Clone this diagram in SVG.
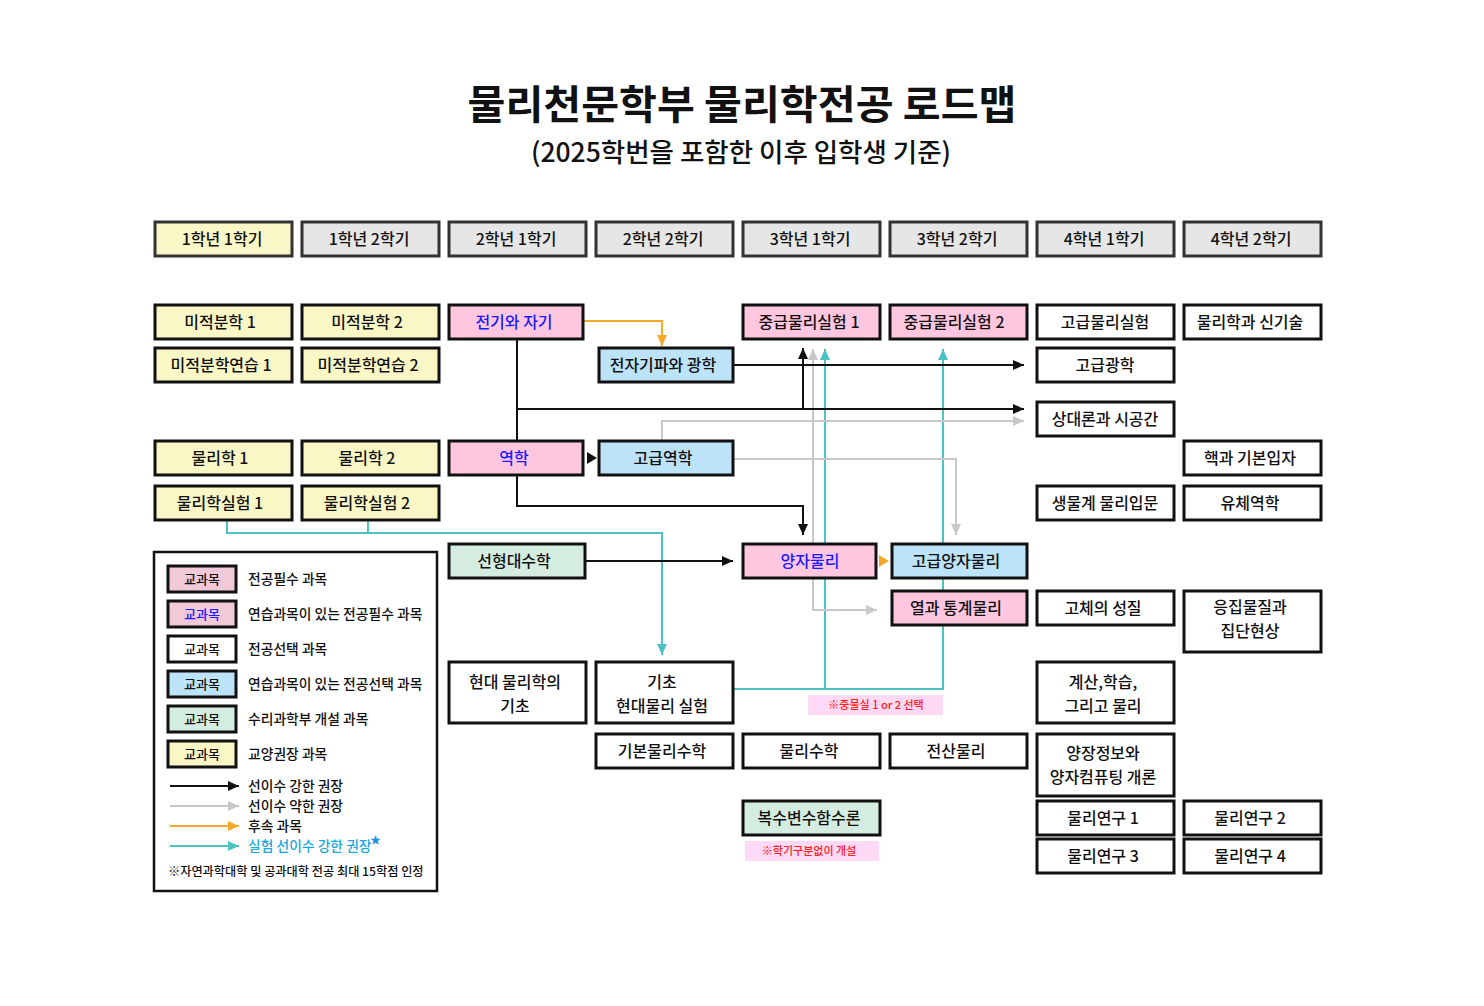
<svg xmlns="http://www.w3.org/2000/svg" width="1484" height="1006" viewBox="0 0 1484 1006">
<defs>
<style>
text{font-family:"Noto Sans CJK KR","Noto Sans",sans-serif;fill:#111;font-weight:500;}
.t{font-size:16px;text-anchor:middle;}
.blue{fill:#1a1aff;}
.box{stroke:#111;stroke-width:3;}
.hdr{fill:#e6e6e6;stroke:#333;stroke-width:3;}
.yel{fill:#faf7c6;}
.pink{fill:#ffc6df;}
.sky{fill:#bde3f8;}
.mint{fill:#d5ede0;}
.wht{fill:#ffffff;}
.k{fill:none;stroke:#111;stroke-width:2;}
.g{fill:none;stroke:#c8c8c8;stroke-width:2;}
.c{fill:none;stroke:#4cc2c4;stroke-width:2;}
.o{fill:none;stroke:#f7a82a;stroke-width:2;}
.lg{font-size:13.8px;}
.sw{font-size:13px;text-anchor:middle;}
.note{font-size:11px;fill:#ff1a1a;text-anchor:middle;}
</style>
<marker id="ak" markerUnits="userSpaceOnUse" markerWidth="11" markerHeight="10" refX="11" refY="5" orient="auto"><path d="M0,0 L11,5 L0,10 z" fill="#111"/></marker>
<marker id="ag" markerUnits="userSpaceOnUse" markerWidth="11" markerHeight="10" refX="11" refY="5" orient="auto"><path d="M0,0 L11,5 L0,10 z" fill="#c8c8c8"/></marker>
<marker id="ac" markerUnits="userSpaceOnUse" markerWidth="11" markerHeight="10" refX="11" refY="5" orient="auto"><path d="M0,0 L11,5 L0,10 z" fill="#4cc2c4"/></marker>
<marker id="ao" markerUnits="userSpaceOnUse" markerWidth="11" markerHeight="10" refX="11" refY="5" orient="auto"><path d="M0,0 L11,5 L0,10 z" fill="#f7a82a"/></marker>
</defs>
<rect width="1484" height="1006" fill="#ffffff"/>

<g id="title">
<text x="742" y="119" font-size="40" style="font-weight:bold" text-anchor="middle" textLength="549" lengthAdjust="spacingAndGlyphs">물리천문학부 물리학전공 로드맵</text>
<text x="741" y="162" font-size="26.5" text-anchor="middle">(2025학번을 포함한 이후 입학생 기준)</text>
</g>

<g id="connectors">
<polyline class="c" points="227,520 227,533 662,533 662,655" marker-end="url(#ac)"/>
<line class="c" x1="368" y1="520" x2="368" y2="533"/>
<polyline class="c" points="733,689 943,689 943,349" marker-end="url(#ac)"/>
<line class="c" x1="825" y1="689" x2="825" y2="349" marker-end="url(#ac)"/>
<polyline class="g" points="877,610 813,610 813,349" marker-end="url(#ag)"/>
<line class="g" x1="813" y1="610" x2="877" y2="610" marker-end="url(#ag)"/>
<polyline class="g" points="662,441 662,421 1024,421" marker-end="url(#ag)"/>
<polyline class="g" points="733,459 956,459 956,535" marker-end="url(#ag)"/>
<polyline class="o" points="583,321 662,321 662,346" marker-end="url(#ao)"/>
<line class="k" x1="517" y1="339" x2="517" y2="441"/>
<line class="k" x1="517" y1="409" x2="1024" y2="409" marker-end="url(#ak)"/>
<line class="k" x1="803" y1="409" x2="803" y2="348" marker-end="url(#ak)"/>
<line class="k" x1="733" y1="365" x2="1024" y2="365" marker-end="url(#ak)"/>
<polyline class="k" points="517,475 517,506 803,506 803,535" marker-end="url(#ak)"/>
<line class="k" x1="585" y1="561" x2="733" y2="561" marker-end="url(#ak)"/>
<polygon points="587,452 597,458 587,464" fill="#111"/>
<polygon points="879,555 889,561 879,567" fill="#f7a82a"/>
</g>

<g id="headers">
<g id="h1"><rect class="hdr yel" x="155" y="222" width="137" height="34"/><text class="t" x="222" y="245">1학년 1학기</text></g>
<g id="h2"><rect class="hdr" x="302" y="222" width="137" height="34"/><text class="t" x="369" y="245">1학년 2학기</text></g>
<g id="h3"><rect class="hdr" x="449" y="222" width="137" height="34"/><text class="t" x="516" y="245">2학년 1학기</text></g>
<g id="h4"><rect class="hdr" x="596" y="222" width="137" height="34"/><text class="t" x="663" y="245">2학년 2학기</text></g>
<g id="h5"><rect class="hdr" x="743" y="222" width="137" height="34"/><text class="t" x="810" y="245">3학년 1학기</text></g>
<g id="h6"><rect class="hdr" x="890" y="222" width="137" height="34"/><text class="t" x="957" y="245">3학년 2학기</text></g>
<g id="h7"><rect class="hdr" x="1037" y="222" width="137" height="34"/><text class="t" x="1104" y="245">4학년 1학기</text></g>
<g id="h8"><rect class="hdr" x="1184" y="222" width="137" height="34"/><text class="t" x="1251" y="245">4학년 2학기</text></g>
</g>

<g id="nodes">
<g id="n-calc1"><rect class="box yel" x="155" y="305" width="137" height="34"/><text class="t" x="220" y="328">미적분학 1</text></g>
<g id="n-calc2"><rect class="box yel" x="302" y="305" width="137" height="34"/><text class="t" x="367" y="328">미적분학 2</text></g>
<g id="n-em"><rect class="box pink" x="449" y="305" width="134" height="34"/><text class="t blue" x="514" y="328">전기와 자기</text></g>
<g id="n-lab1"><rect class="box pink" x="743" y="305" width="137" height="34"/><text class="t" x="809" y="328">중급물리실험 1</text></g>
<g id="n-lab2"><rect class="box pink" x="890" y="305" width="137" height="34"/><text class="t" x="954" y="328">중급물리실험 2</text></g>
<g id="n-advlab"><rect class="box wht" x="1037" y="305" width="137" height="34"/><text class="t" x="1105" y="328">고급물리실험</text></g>
<g id="n-newtech"><rect class="box wht" x="1184" y="305" width="137" height="34"/><text class="t" x="1250" y="328">물리학과 신기술</text></g>

<g id="n-calcex1"><rect class="box yel" x="155" y="348" width="137" height="34"/><text class="t" x="221" y="371">미적분학연습 1</text></g>
<g id="n-calcex2"><rect class="box yel" x="302" y="348" width="137" height="34"/><text class="t" x="368" y="371">미적분학연습 2</text></g>
<g id="n-emwave"><rect class="box sky" x="599" y="348" width="134" height="34"/><text class="t" x="663" y="371">전자기파와 광학</text></g>
<g id="n-advopt"><rect class="box wht" x="1037" y="348" width="137" height="34"/><text class="t" x="1105" y="371">고급광학</text></g>
<g id="n-rel"><rect class="box wht" x="1037" y="402" width="137" height="34"/><text class="t" x="1105" y="425">상대론과 시공간</text></g>

<g id="n-phy1"><rect class="box yel" x="155" y="441" width="137" height="34"/><text class="t" x="220" y="464">물리학 1</text></g>
<g id="n-phy2"><rect class="box yel" x="302" y="441" width="137" height="34"/><text class="t" x="367" y="464">물리학 2</text></g>
<g id="n-mech"><rect class="box pink" x="449" y="441" width="134" height="34"/><text class="t blue" x="514" y="464">역학</text></g>
<g id="n-advmech"><rect class="box sky" x="599" y="441" width="134" height="34"/><text class="t" x="663" y="464">고급역학</text></g>
<g id="n-nuc"><rect class="box wht" x="1184" y="441" width="137" height="34"/><text class="t" x="1250" y="464">핵과 기본입자</text></g>

<g id="n-plab1"><rect class="box yel" x="155" y="486" width="137" height="34"/><text class="t" x="220" y="509">물리학실험 1</text></g>
<g id="n-plab2"><rect class="box yel" x="302" y="486" width="137" height="34"/><text class="t" x="367" y="509">물리학실험 2</text></g>
<g id="n-bio"><rect class="box wht" x="1037" y="486" width="137" height="34"/><text class="t" x="1105" y="509">생물계 물리입문</text></g>
<g id="n-fluid"><rect class="box wht" x="1184" y="486" width="137" height="34"/><text class="t" x="1250" y="509">유체역학</text></g>

<g id="n-linalg"><rect class="box mint" x="449" y="544" width="136" height="34"/><text class="t" x="514" y="567">선형대수학</text></g>
<g id="n-qm"><rect class="box pink" x="743" y="544" width="133" height="34"/><text class="t blue" x="810" y="567">양자물리</text></g>
<g id="n-advqm"><rect class="box sky" x="892" y="544" width="135" height="34"/><text class="t" x="956" y="567">고급양자물리</text></g>
<g id="n-stat"><rect class="box pink" x="892" y="591" width="135" height="34"/><text class="t" x="956" y="614">열과 통계물리</text></g>
<g id="n-solid"><rect class="box wht" x="1037" y="591" width="137" height="34"/><text class="t" x="1103" y="614">고체의 성질</text></g>
<g id="n-cond"><rect class="box wht" x="1184" y="591" width="137" height="61"/><text class="t" x="1250" y="613">응집물질과</text><text class="t" x="1250" y="637">집단현상</text></g>

<g id="n-modern"><rect class="box wht" x="449" y="662" width="137" height="61"/><text class="t" x="515" y="688">현대 물리학의</text><text class="t" x="515" y="712">기초</text></g>
<g id="n-modlab"><rect class="box wht" x="596" y="662" width="137" height="61"/><text class="t" x="662" y="688">기초</text><text class="t" x="662" y="712">현대물리 실험</text></g>
<g id="n-comp"><rect class="box wht" x="1037" y="662" width="137" height="61"/><text class="t" x="1103" y="688">계산,학습,</text><text class="t" x="1103" y="712">그리고 물리</text></g>

<g id="n-basicmath"><rect class="box wht" x="596" y="734" width="137" height="34"/><text class="t" x="662" y="757">기본물리수학</text></g>
<g id="n-math"><rect class="box wht" x="743" y="734" width="137" height="34"/><text class="t" x="809" y="757">물리수학</text></g>
<g id="n-cphys"><rect class="box wht" x="890" y="734" width="137" height="34"/><text class="t" x="956" y="757">전산물리</text></g>
<g id="n-qinfo"><rect class="box wht" x="1037" y="734" width="137" height="62"/><text class="t" x="1103" y="759">양장정보와</text><text class="t" x="1103" y="783">양자컴퓨팅 개론</text></g>

<g id="n-complex"><rect class="box mint" x="743" y="801" width="137" height="34"/><text class="t" x="809" y="824">복수변수함수론</text></g>
<g id="n-res1"><rect class="box wht" x="1037" y="801" width="137" height="34"/><text class="t" x="1103" y="824">물리연구 1</text></g>
<g id="n-res2"><rect class="box wht" x="1184" y="801" width="137" height="34"/><text class="t" x="1250" y="824">물리연구 2</text></g>
<g id="n-res3"><rect class="box wht" x="1037" y="839" width="137" height="34"/><text class="t" x="1103" y="862">물리연구 3</text></g>
<g id="n-res4"><rect class="box wht" x="1184" y="839" width="137" height="34"/><text class="t" x="1250" y="862">물리연구 4</text></g>
</g>

<g id="notes">
<rect x="808" y="695" width="135" height="20" fill="#ffd9f6"/>
<text class="note" x="876" y="709">※중물실 1 or 2 선택</text>
<rect x="745" y="841" width="134" height="20" fill="#ffd9f6"/>
<text class="note" x="809" y="855">※학기구분없이 개설</text>
</g>

<g id="legend">
<rect x="154" y="552" width="283" height="339" fill="#ffffff" stroke="#111" stroke-width="2.5"/>
<rect class="box" x="168" y="566" width="68" height="26" fill="#f2c9d8"/><text class="sw" x="202" y="584">교과목</text><text class="lg" x="248" y="584">전공필수 과목</text>
<rect class="box" x="168" y="601" width="68" height="26" fill="#f2c9d8"/><text class="sw blue" x="202" y="619">교과목</text><text class="lg" x="248" y="619">연습과목이 있는 전공필수 과목</text>
<rect class="box wht" x="168" y="636" width="68" height="26"/><text class="sw" x="202" y="654">교과목</text><text class="lg" x="248" y="654">전공선택 과목</text>
<rect class="box sky" x="168" y="671" width="68" height="26"/><text class="sw" x="202" y="689">교과목</text><text class="lg" x="248" y="689">연습과목이 있는 전공선택 과목</text>
<rect class="box mint" x="168" y="706" width="68" height="26"/><text class="sw" x="202" y="724">교과목</text><text class="lg" x="248" y="724">수리과학부 개설 과목</text>
<rect class="box yel" x="168" y="741" width="68" height="26"/><text class="sw" x="202" y="759">교과목</text><text class="lg" x="248" y="759">교양권장 과목</text>
<line class="k" x1="170" y1="786" x2="239" y2="786" marker-end="url(#ak)"/><text class="lg" x="248" y="791">선이수 강한 권장</text>
<line class="g" x1="170" y1="806" x2="239" y2="806" marker-end="url(#ag)"/><text class="lg" x="248" y="811">선이수 약한 권장</text>
<line class="o" x1="170" y1="826" x2="239" y2="826" marker-end="url(#ao)"/><text class="lg" x="248" y="831">후속 과목</text>
<line class="c" x1="170" y1="846" x2="239" y2="846" marker-end="url(#ac)"/><text class="lg" x="248" y="851" style="fill:#1aa7de">실험 선이수 강한 권장</text><text x="370" y="844" font-size="11" style="fill:#1a8fe0">★</text>
<text x="168" y="876" font-size="12.2">※자연과학대학 및 공과대학 전공 최대 15학점 인정</text>
</g>
</svg>
